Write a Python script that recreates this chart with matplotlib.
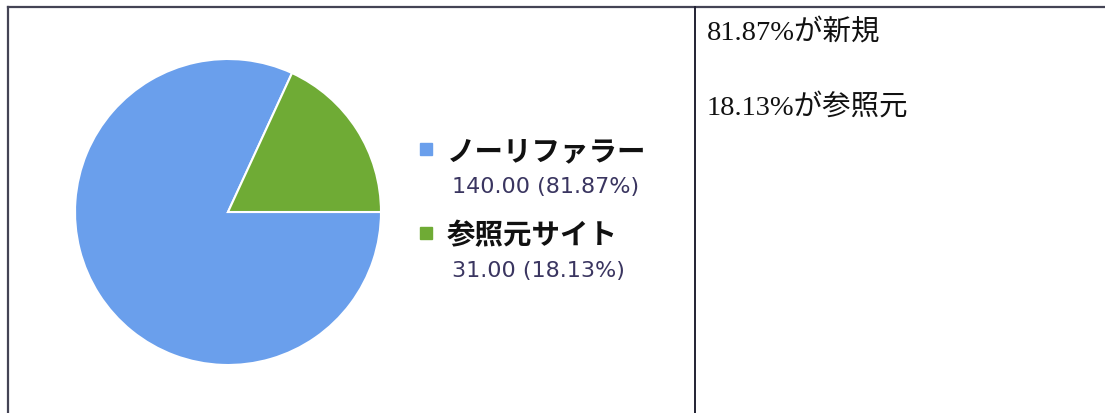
import matplotlib.pyplot as plt

plt.rcParams['font.family'] = ['Noto Sans CJK JP', 'DejaVu Sans']

# data
labels = ["ノーリファラー", "参照元サイト"]
values = [140.00, 31.00]
shares = [81.87, 18.13]
colors = ["#6a9fec", "#6fab35"]
notes = ["81.87%が新規", "18.13%が参照元"]

W, H = 1105, 414
fig = plt.figure(figsize=(W / 100, H / 100), dpi=100)

# page-level axes in pixel coordinates for frame and text
page = fig.add_axes([0, 0, 1, 1])
page.set_xlim(0, W)
page.set_ylim(H, 0)
page.axis("off")

# table frame
page.plot([7.5, 7.5], [8, H], color="#444455", lw=1.6)
page.plot([7.5, W], [8, 8], color="#444455", lw=1.6)
page.plot([695, 695], [8, H], color="#222233", lw=1.4)

# pie
cx, cy, r = 228, 213, 153
pie_ax = fig.add_axes([(cx - r) / W, (H - cy - r) / H, 2 * r / W, 2 * r / H])
start = 360.0 * values[1] / sum(values)
pie_ax.pie(values, colors=colors, startangle=start, counterclock=True,
           radius=1.0, wedgeprops=dict(edgecolor="white", linewidth=1.5))
pie_ax.set_xlim(-1, 1)
pie_ax.set_ylim(-1, 1)
pie_ax.set_aspect("equal")
pie_ax.axis("off")

# legend
ys = [152, 236]
for lab, val, sh, col, y in zip(labels, values, shares, colors, ys):
    page.add_patch(plt.Rectangle((420, y - 8), 12, 12, color=col))
    page.text(447, y, lab, fontsize=20.5, fontweight="bold", color="#111111",
              va="center", ha="left")
    page.text(452, y + 35, "{:.2f} ({:.2f}%)".format(val, sh), fontsize=16,
              color="#3a3560", va="center", ha="left",
              family=["DejaVu Sans"])

# notes in right cell
for txt, y in zip(notes, [33, 107]):
    page.text(707, y, txt, fontsize=20.5, color="#111111", va="center",
              ha="left", family=["Liberation Serif", "Noto Sans CJK JP"])

fig.savefig("out.png", dpi=100)
